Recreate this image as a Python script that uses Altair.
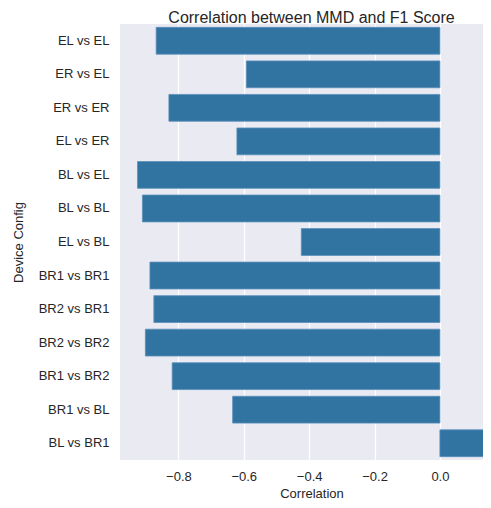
import altair as alt
import pandas as pd

configs = ["EL vs EL", "ER vs EL", "ER vs ER", "EL vs ER", "BL vs EL", "BL vs BL",
           "EL vs BL", "BR1 vs BR1", "BR2 vs BR1", "BR2 vs BR2", "BR1 vs BR2",
           "BR1 vs BL", "BL vs BR1"]
correlations = [-0.868, -0.592, -0.829, -0.621, -0.925, -0.910, -0.424,
                -0.887, -0.875, -0.901, -0.819, -0.634, 0.140]
x_ticks = [-0.8, -0.6, -0.4, -0.2, 0.0]

df = pd.DataFrame({"config": configs, "corr": correlations})

FONT = "Liberation Sans"
TXT = "#262626"

chart = alt.Chart(df).mark_bar(
    color="#3274a1", stroke="#5a8fbb", strokeWidth=0.8, clip=True
).encode(
    x=alt.X("corr:Q", title="Correlation",
            scale=alt.Scale(domain=[-0.9786, 0.193], nice=False, zero=False),
            axis=alt.Axis(values=x_ticks, format=".1f", ticks=False, domain=False,
                          grid=True, gridColor="white", gridWidth=1.2,
                          labelPadding=10, titlePadding=4)),
    x2=alt.X2(datum=0),
    y=alt.Y("config:N", title="Device Config", sort=configs,
            scale=alt.Scale(paddingInner=0.2, paddingOuter=0.1),
            axis=alt.Axis(ticks=False, domain=False, grid=False,
                          labelPadding=11, titlePadding=13)),
).properties(
    width=383, height=436,
    title=alt.Title("Correlation between MMD and F1 Score", fontSize=16,
                    font=FONT, color=TXT, fontWeight="normal", offset=1, dy=3),
    autosize=alt.AutoSizeParams(type="none"),
    padding={"left": 112, "top": 16, "right": -20, "bottom": 40},
).configure_view(
    fill="#EAEAF2", stroke=None
).configure_axis(
    labelFont=FONT, titleFont=FONT, labelFontSize=13, titleFontSize=13,
    labelColor=TXT, titleColor=TXT, titleFontWeight="normal"
)

chart.save("out.html", embed_options={"renderer": "svg", "actions": False})
